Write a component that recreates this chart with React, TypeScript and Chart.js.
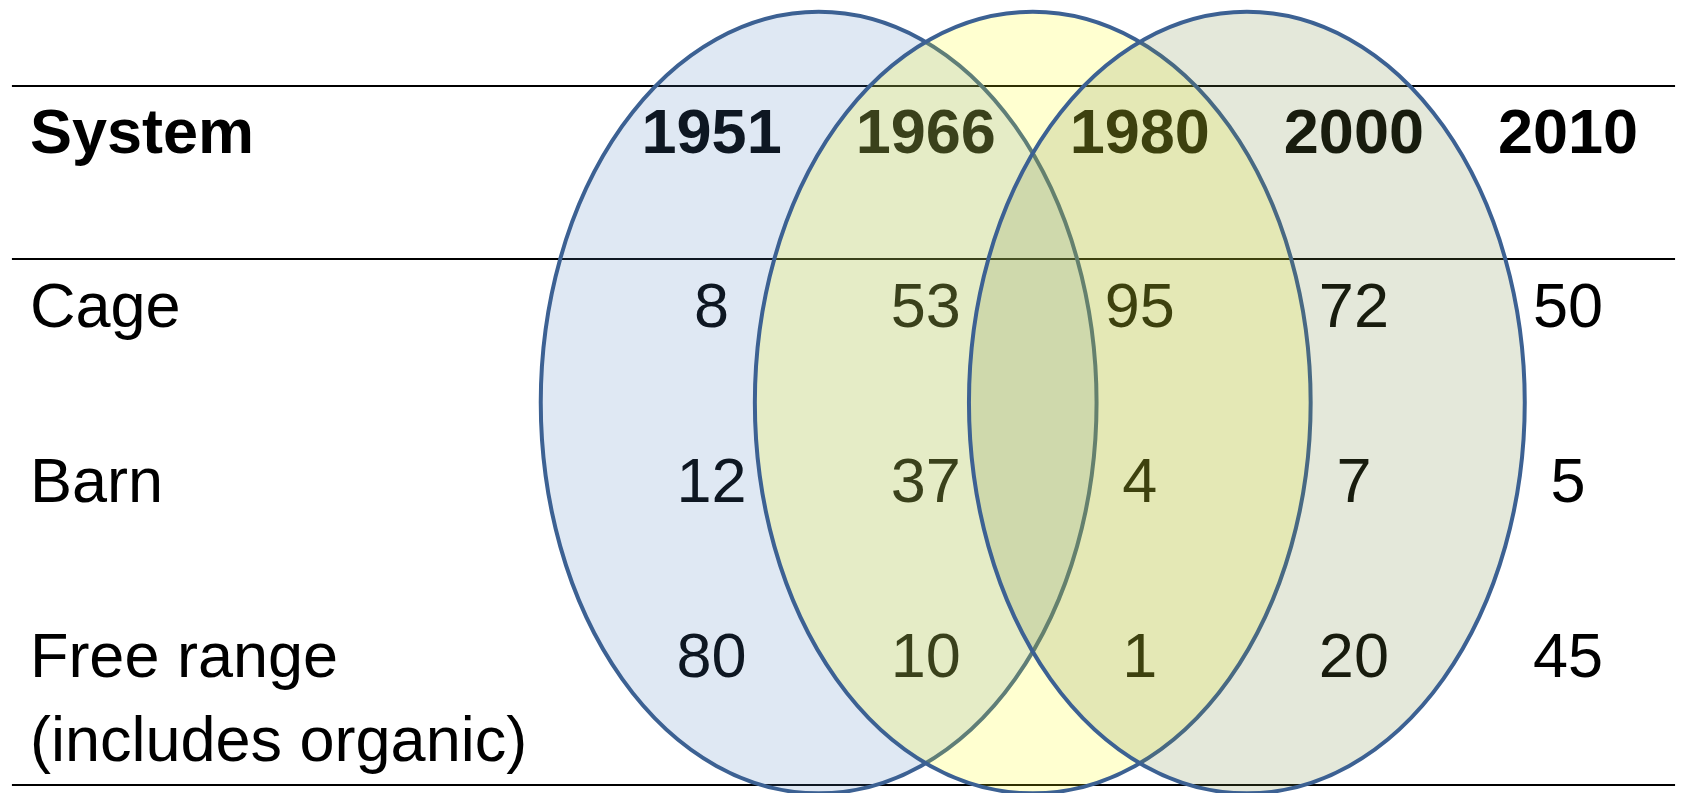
import React, { useEffect, useRef } from "react";
import { Chart, registerables } from "chart.js";

Chart.register(...registerables);

// ---- data ----
const headerLabel = "System";
const years = ["1951", "1966", "1980", "2000", "2010"];
const systems = ["Cage", "Barn", "Free range\n(includes organic)"];
const cageValues = [8, 53, 95, 72, 50];
const barnValues = [12, 37, 4, 7, 5];
const freeRangeValues = [80, 10, 1, 20, 45];
// groups of consecutive year columns (by index) circled by the ellipses
const groupStart = [0, 1, 2];
const groupEnd = [1, 2, 3];

const rowValues = [cageValues, barnValues, freeRangeValues];

const FONT = "'Liberation Sans', Arial, Helvetica, sans-serif";
const FS = 63;
const STROKE = "#3C6193";
const FILLS = [
  "rgba(79,129,189,0.18)",
  "rgba(255,255,0,0.185)",
  "rgba(118,138,70,0.2)",
];

const tablePlugin = {
  id: "tableVenn",
  beforeDatasetsDraw(chart: any) {
    const { ctx, scales } = chart;
    const xs = scales.x;
    const ys = scales.y;
    ctx.save();
    // rules
    ctx.strokeStyle = "#000";
    ctx.lineWidth = 2;
    const lx0 = xs.getPixelForValue(-3.268);
    const lx1 = xs.getPixelForValue(4.5);
    [-0.25, 0.738, 3.749].forEach((r) => {
      const y = Math.round(ys.getPixelForValue(r));
      ctx.beginPath();
      ctx.moveTo(lx0, y);
      ctx.lineTo(lx1, y);
      ctx.stroke();
    });
    ctx.fillStyle = "#000";
    ctx.textBaseline = "alphabetic";
    const off = FS * 0.358;
    const labelX = xs.getPixelForValue(-3.184);
    // header
    ctx.font = `bold ${FS}px ${FONT}`;
    ctx.textAlign = "left";
    ctx.fillText(headerLabel, labelX, ys.getPixelForValue(0) + off);
    ctx.textAlign = "center";
    const headMeta = chart.getDatasetMeta(0);
    headMeta.data.forEach((el: any, i: number) => {
      ctx.fillText(years[i], el.x, el.y + off);
    });
    // row labels
    ctx.font = `${FS}px ${FONT}`;
    ctx.textAlign = "left";
    systems.forEach((s, r) => {
      const lines = s.split("\n");
      const y0 = ys.getPixelForValue(r + 1);
      lines.forEach((ln, k) => {
        ctx.fillText(ln, labelX, y0 + off + k * 84);
      });
    });
    // cells
    ctx.textAlign = "center";
    for (let d = 1; d <= 3; d++) {
      const meta = chart.getDatasetMeta(d);
      meta.data.forEach((el: any, i: number) => {
        ctx.fillText(String(rowValues[d - 1][i]), el.x, el.y + off);
      });
    }
    ctx.restore();
  },
  afterDatasetsDraw(chart: any) {
    const { ctx, scales } = chart;
    const xs = scales.x;
    const ys = scales.y;
    const meta = chart.getDatasetMeta(4);
    ctx.save();
    meta.data.forEach((el: any, i: number) => {
      const half = (groupEnd[i] - groupStart[i]) / 2;
      const rx = Math.abs(xs.getPixelForValue(half + 0.798) - xs.getPixelForValue(0));
      const ry = Math.abs(ys.getPixelForValue(2.237) - ys.getPixelForValue(0));
      ctx.beginPath();
      ctx.ellipse(el.x, el.y, rx, ry, 0, 0, Math.PI * 2);
      ctx.fillStyle = FILLS[i];
      ctx.fill();
      ctx.lineWidth = 4;
      ctx.strokeStyle = STROKE;
      ctx.stroke();
    });
    ctx.restore();
  },
};

export default function App() {
  const ref = useRef<HTMLCanvasElement>(null);
  useEffect(() => {
    document.body.style.margin = "0";
    const pts = (row: number) => years.map((_, i) => ({ x: i, y: row }));
    const chart = new Chart(ref.current as HTMLCanvasElement, {
      type: "scatter",
      data: {
        datasets: [
          { label: "header", data: pts(0), pointRadius: 0 },
          { label: systems[0], data: pts(1), pointRadius: 0 },
          { label: systems[1], data: pts(2), pointRadius: 0 },
          { label: systems[2], data: pts(3), pointRadius: 0 },
          {
            label: "groups",
            data: groupStart.map((s, i) => ({ x: (s + groupEnd[i]) / 2, y: 1.56 })),
            pointRadius: 0,
          },
        ],
      },
      options: {
        animation: false,
        responsive: true,
        maintainAspectRatio: false,
        layout: { padding: 0 },
        events: [],
        plugins: { legend: { display: false }, tooltip: { enabled: false } },
        scales: {
          x: { type: "linear", min: -3.3237, max: 4.5371, display: false },
          y: { type: "linear", min: -0.7441, max: 3.7951, reverse: true, display: false },
        },
      },
      plugins: [tablePlugin],
    });
    return () => chart.destroy();
  }, []);
  return (
    <div style={{ position: "fixed", left: 0, top: 0, width: 1683, height: 793, background: "#fff" }}>
      <canvas ref={ref} />
    </div>
  );
}
